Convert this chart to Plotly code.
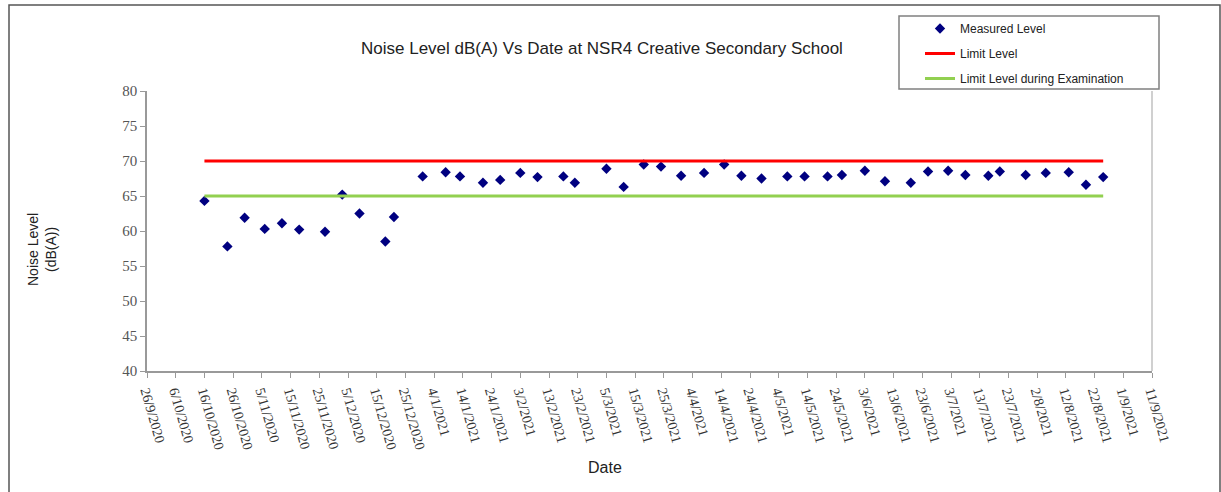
import plotly.graph_objects as go

# Measured noise levels, dB(A)
measure_dates = [
    "2020-10-16", "2020-10-24", "2020-10-30", "2020-11-06", "2020-11-12",
    "2020-11-18", "2020-11-27", "2020-12-03", "2020-12-09", "2020-12-18",
    "2020-12-21", "2020-12-31", "2021-01-08", "2021-01-13", "2021-01-21",
    "2021-01-27", "2021-02-03", "2021-02-09", "2021-02-18", "2021-02-22",
    "2021-03-05", "2021-03-11", "2021-03-18", "2021-03-24", "2021-03-31",
    "2021-04-08", "2021-04-15", "2021-04-21", "2021-04-28", "2021-05-07",
    "2021-05-13", "2021-05-21", "2021-05-26", "2021-06-03", "2021-06-10",
    "2021-06-19", "2021-06-25", "2021-07-02", "2021-07-08", "2021-07-16",
    "2021-07-20", "2021-07-29", "2021-08-05", "2021-08-13", "2021-08-19",
    "2021-08-25",
]
measured_level = [
    64.3, 57.8, 61.9, 60.3, 61.1,
    60.2, 59.9, 65.2, 62.5, 58.5,
    62.0, 67.8, 68.4, 67.8, 66.9,
    67.3, 68.3, 67.7, 67.8, 66.9,
    68.9, 66.3, 69.5, 69.2, 67.9,
    68.3, 69.5, 67.9, 67.5, 67.8,
    67.8, 67.8, 68.0, 68.6, 67.1,
    66.9, 68.5, 68.6, 68.0, 67.9,
    68.5, 68.0, 68.3, 68.4, 66.6,
    67.7,
]

limit_dates = ["2020-10-16", "2021-08-25"]
limit_level = [70, 70]
exam_limit_level = [65, 65]

x_start = "2020-09-26"
x_end = "2021-09-11"

# body margin is removed below, so page pixels = figure pixels
W, H = 1221, 492
L, R, T, B = 147, 1152, 91, 371


def px(x):
    return (x - L) / (R - L)


def py(y):
    return (B - y) / (B - T)


fig = go.Figure()

fig.add_trace(go.Scatter(
    x=measure_dates, y=measured_level,
    mode="markers", name="Measured Level",
    marker=dict(symbol="diamond", color="#000080", size=8),
    legendgroup="a",
))
fig.add_trace(go.Scatter(
    x=limit_dates, y=limit_level,
    mode="lines", name="Limit Level",
    line=dict(color="#ff0000", width=3),
    legendgroup="b",
))
fig.add_trace(go.Scatter(
    x=limit_dates, y=exam_limit_level,
    mode="lines", name="Limit Level during Examination",
    line=dict(color="#92d050", width=3),
    legendgroup="c",
))

# outer frame and plot-area right border
fig.add_shape(type="rect", xref="paper", yref="paper",
              x0=px(9), x1=px(1220), y0=py(600), y1=py(5),
              line=dict(color="#555555", width=1.5))
fig.add_shape(type="line", xref="paper", yref="paper",
              x0=1, x1=1, y0=0, y1=1,
              line=dict(color="#d0d0d0", width=2))
# legend box
fig.add_shape(type="rect", xref="paper", yref="paper",
              x0=px(899), x1=px(1159), y0=py(89), y1=py(16),
              line=dict(color="#808080", width=1.5))

fig.add_annotation(text="Noise Level dB(A) Vs Date at NSR4 Creative Secondary School",
                   xref="paper", yref="paper", x=px(602), y=py(48),
                   xanchor="center", yanchor="middle", showarrow=False,
                   font=dict(family="Liberation Sans", size=17, color="#222222"))
fig.add_annotation(text="Noise Level<br>(dB(A))", textangle=-90,
                   xref="paper", yref="paper", x=px(42), y=py(250),
                   xanchor="center", yanchor="middle", showarrow=False,
                   font=dict(family="Liberation Sans", size=14, color="#222222"))
fig.add_annotation(text="Date",
                   xref="paper", yref="paper", x=px(605), y=py(467),
                   xanchor="center", yanchor="middle", showarrow=False,
                   font=dict(family="Liberation Sans", size=16, color="#222222"))

fig.update_xaxes(
    type="date", range=[x_start, x_end],
    tick0=x_start, dtick=10 * 86400000, tickformat="%-d/%-m/%Y",
    tickangle=74, ticks="outside", ticklen=5, tickcolor="#999999",
    showline=True, linecolor="#999999", linewidth=1.5,
    showgrid=False, zeroline=False,
    tickfont=dict(family="Liberation Serif", size=14, color="#333333"),
)
fig.update_yaxes(
    range=[40, 80], dtick=5,
    ticks="outside", ticklen=5, tickcolor="#999999",
    showline=True, linecolor="#999999", linewidth=1.5,
    showgrid=False, zeroline=False,
    tickfont=dict(family="Liberation Serif", size=15, color="#555555"),
)

fig.update_layout(
    width=W, height=H,
    margin=dict(l=L, r=W - R, t=T, b=H - B),
    plot_bgcolor="white", paper_bgcolor="white",
    showlegend=True,
    legend=dict(x=px(920), y=py(14), xanchor="left", yanchor="top",
                bgcolor="rgba(0,0,0,0)", borderwidth=0,
                tracegroupgap=6, itemwidth=30,
                font=dict(family="Liberation Sans", size=12, color="#222222")),
)

fig.write_html("out.html", config={"displayModeBar": False},
               post_script="document.body.style.margin='0px';")
